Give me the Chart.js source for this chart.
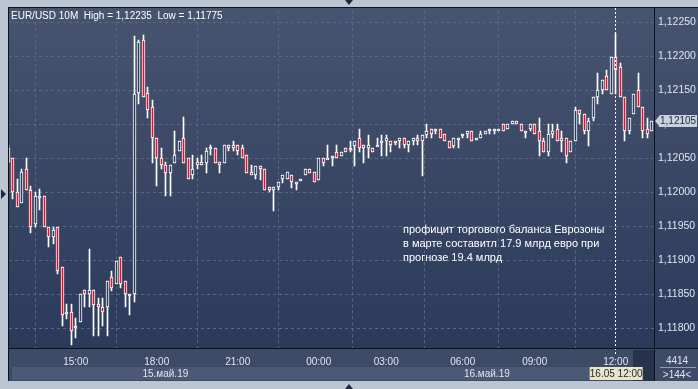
<!DOCTYPE html>
<html>
<head>
<meta charset="utf-8">
<script src="https://cdn.jsdelivr.net/npm/chart.js@4.4.0/dist/chart.umd.min.js"></script>
<style>
  html, body { margin: 0; padding: 0; background: #bcc6d3; }
</style>
</head>
<body>
<canvas id="eurusd" width="698" height="389"></canvas>
<script>
// EUR/USD 10M, 144 свечи
const opens = [
  1.12045, 1.12050, 1.12000, 1.11984, 1.12034, 1.12004, 1.11954, 1.11994, 1.11994, 1.11949,
  1.11934, 1.11949, 1.11890, 1.11824, 1.11824, 1.11800, 1.11810, 1.11856, 1.11850, 1.11856,
  1.11836, 1.11831, 1.11831, 1.11875, 1.11865, 1.11905, 1.11870, 1.11849, 1.11850, 1.12146,
  1.12225, 1.12146, 1.12125, 1.12080, 1.12050, 1.12040, 1.12029, 1.12044, 1.12061, 1.12080,
  1.12050, 1.12025, 1.12040, 1.12045, 1.12044, 1.12066, 1.12066, 1.12045, 1.12044, 1.12070,
  1.12066, 1.12070, 1.12066, 1.12055, 1.12030, 1.12025, 1.12039, 1.12034, 1.12008, 1.12004,
  1.12008, 1.12019, 1.12019, 1.12025, 1.12015, 1.12019, 1.12025, 1.12034, 1.12030, 1.12018,
  1.12050, 1.12050, 1.12050, 1.12060, 1.12054, 1.12065, 1.12065, 1.12069, 1.12080, 1.12070,
  1.12065, 1.12065, 1.12070, 1.12075, 1.12075, 1.12075, 1.12075, 1.12075, 1.12080, 1.12070,
  1.12075, 1.12080, 1.12075, 1.12085, 1.12094, 1.12090, 1.12094, 1.12086, 1.12075, 1.12069,
  1.12080, 1.12086, 1.12086, 1.12090, 1.12080, 1.12080, 1.12086, 1.12090, 1.12094, 1.12094,
  1.12100, 1.12094, 1.12100, 1.12105, 1.12100, 1.12090, 1.12094, 1.12100, 1.12090, 1.12075,
  1.12060, 1.12086, 1.12094, 1.12080, 1.12080, 1.12060, 1.12075, 1.12121, 1.12115, 1.12090,
  1.12110, 1.12140, 1.12150, 1.12171, 1.12145, 1.12200, 1.12185, 1.12140, 1.12090, 1.12115,
  1.12150, 1.12126, 1.12094, 1.12090
];
const highs = [
  1.12070, 1.12050, 1.12019, 1.12034, 1.12050, 1.12010, 1.12001, 1.12005, 1.11994, 1.11949,
  1.11949, 1.11949, 1.11890, 1.11836, 1.11836, 1.11815, 1.11850, 1.11856, 1.11916, 1.11856,
  1.11845, 1.11845, 1.11870, 1.11885, 1.11899, 1.11905, 1.11870, 1.11850, 1.12230, 1.12225,
  1.12231, 1.12155, 1.12136, 1.12080, 1.12066, 1.12045, 1.12040, 1.12091, 1.12075, 1.12111,
  1.12050, 1.12055, 1.12050, 1.12055, 1.12066, 1.12070, 1.12066, 1.12045, 1.12070, 1.12070,
  1.12075, 1.12070, 1.12070, 1.12055, 1.12040, 1.12039, 1.12039, 1.12034, 1.12008, 1.12008,
  1.12015, 1.12025, 1.12030, 1.12025, 1.12015, 1.12019, 1.12034, 1.12034, 1.12030, 1.12050,
  1.12050, 1.12070, 1.12054, 1.12070, 1.12060, 1.12065, 1.12075, 1.12075, 1.12094, 1.12070,
  1.12085, 1.12065, 1.12080, 1.12085, 1.12085, 1.12075, 1.12075, 1.12080, 1.12080, 1.12075,
  1.12080, 1.12085, 1.12085, 1.12100, 1.12094, 1.12094, 1.12094, 1.12086, 1.12075, 1.12080,
  1.12080, 1.12086, 1.12090, 1.12090, 1.12080, 1.12090, 1.12090, 1.12094, 1.12094, 1.12094,
  1.12100, 1.12100, 1.12105, 1.12105, 1.12100, 1.12090, 1.12100, 1.12100, 1.12110, 1.12080,
  1.12100, 1.12100, 1.12100, 1.12090, 1.12080, 1.12075, 1.12126, 1.12121, 1.12115, 1.12110,
  1.12140, 1.12175, 1.12165, 1.12180, 1.12200, 1.12235, 1.12190, 1.12140, 1.12110, 1.12145,
  1.12175, 1.12126, 1.12110, 1.12105
];
const lows = [
  1.12043, 1.11990, 1.11979, 1.11984, 1.12004, 1.11940, 1.11949, 1.11974, 1.11949, 1.11919,
  1.11924, 1.11880, 1.11804, 1.11814, 1.11775, 1.11785, 1.11810, 1.11831, 1.11831, 1.11789,
  1.11789, 1.11804, 1.11789, 1.11855, 1.11865, 1.11860, 1.11831, 1.11820, 1.11839, 1.12130,
  1.12140, 1.12110, 1.12044, 1.12009, 1.12034, 1.11994, 1.11994, 1.12044, 1.12061, 1.12044,
  1.12019, 1.12019, 1.12034, 1.12040, 1.12029, 1.12055, 1.12044, 1.12029, 1.12044, 1.12061,
  1.12061, 1.12055, 1.12050, 1.12029, 1.12025, 1.12019, 1.12018, 1.12004, 1.12000, 1.11973,
  1.12004, 1.12014, 1.12019, 1.12007, 1.12004, 1.12019, 1.12025, 1.12029, 1.12015, 1.12018,
  1.12039, 1.12050, 1.12039, 1.12050, 1.12054, 1.12060, 1.12060, 1.12039, 1.12060, 1.12043,
  1.12050, 1.12060, 1.12070, 1.12054, 1.12054, 1.12060, 1.12070, 1.12065, 1.12065, 1.12060,
  1.12070, 1.12070, 1.12024, 1.12080, 1.12080, 1.12086, 1.12080, 1.12076, 1.12065, 1.12065,
  1.12065, 1.12080, 1.12080, 1.12075, 1.12080, 1.12080, 1.12086, 1.12086, 1.12086, 1.12094,
  1.12090, 1.12094, 1.12100, 1.12100, 1.12090, 1.12080, 1.12090, 1.12086, 1.12054, 1.12060,
  1.12054, 1.12080, 1.12075, 1.12060, 1.12044, 1.12060, 1.12075, 1.12100, 1.12086, 1.12068,
  1.12105, 1.12130, 1.12145, 1.12150, 1.12145, 1.12145, 1.12140, 1.12075, 1.12086, 1.12115,
  1.12126, 1.12080, 1.12080, 1.12090
];
const closes = [
  1.12065, 1.12000, 1.11979, 1.12030, 1.12004, 1.11949, 1.11995, 1.11995, 1.11949, 1.11934,
  1.11945, 1.11884, 1.11820, 1.11824, 1.11796, 1.11804, 1.11850, 1.11850, 1.11856, 1.11835,
  1.11831, 1.11824, 1.11870, 1.11860, 1.11899, 1.11865, 1.11850, 1.11850, 1.12145, 1.12221,
  1.12140, 1.12121, 1.12080, 1.12050, 1.12040, 1.12029, 1.12040, 1.12055, 1.12075, 1.12044,
  1.12019, 1.12034, 1.12045, 1.12040, 1.12061, 1.12067, 1.12044, 1.12040, 1.12070, 1.12066,
  1.12070, 1.12061, 1.12050, 1.12029, 1.12025, 1.12039, 1.12034, 1.12004, 1.12004, 1.12008,
  1.12015, 1.12025, 1.12030, 1.12015, 1.12015, 1.12019, 1.12034, 1.12029, 1.12015, 1.12050,
  1.12043, 1.12050, 1.12054, 1.12050, 1.12060, 1.12060, 1.12065, 1.12075, 1.12065, 1.12065,
  1.12070, 1.12060, 1.12070, 1.12075, 1.12080, 1.12070, 1.12075, 1.12080, 1.12070, 1.12075,
  1.12080, 1.12075, 1.12085, 1.12090, 1.12086, 1.12094, 1.12080, 1.12076, 1.12065, 1.12080,
  1.12080, 1.12086, 1.12090, 1.12075, 1.12080, 1.12086, 1.12090, 1.12094, 1.12090, 1.12094,
  1.12090, 1.12100, 1.12105, 1.12100, 1.12090, 1.12090, 1.12100, 1.12086, 1.12075, 1.12060,
  1.12086, 1.12090, 1.12075, 1.12075, 1.12054, 1.12075, 1.12121, 1.12115, 1.12090, 1.12105,
  1.12140, 1.12150, 1.12165, 1.12150, 1.12200, 1.12180, 1.12140, 1.12090, 1.12110, 1.12145,
  1.12126, 1.12090, 1.12086, 1.12105
];

const yTicks = [1.118, 1.1185, 1.119, 1.1195, 1.12, 1.1205, 1.121, 1.1215, 1.122, 1.1225];
const timeTickIdx = [15, 33, 51, 69, 84, 101, 117, 135];
const timeTickText = ['15:00', '18:00', '21:00', '00:00', '03:00', '06:00', '09:00', '12:00'];
const dayLabels = ['15.май.19', '16.май.19'];
const dayStartIdx = 69;          // 00:00 — граница суток
const cursorIdx = 135;           // вертикальный курсор
const cursorText = '16.05 12:00';
const headerText = 'EUR/USD 10M  High = 1,12235  Low = 1,11775';
const noteLines = [
  'профицит торгового баланса Еврозоны',
  'в марте составитл 17.9 млрд евро при',
  'прогнозе 19.4 млрд'
];
const barsCount = '4414';
const barsVisible = '>144<';

const UP_FILL = '#2f3d5c';
const DOWN_FILL = '#e4112b';
const fmt = v => v.toFixed(5).replace('.', ',');

const wicks = opens.map((o, i) => ({ x: i, y: [lows[i], highs[i]] }));
const bodies = opens.map((o, i) => ({ x: i, y: [Math.min(o, closes[i]), Math.max(o, closes[i])] }));
const bodyColors = opens.map((o, i) => closes[i] < o ? DOWN_FILL : UP_FILL);

// свечи по пикселям, чтобы не расплывались
const snapPlugin = {
  id: 'snap',
  beforeDatasetsDraw(chart) {
    chart.data.datasets.forEach((ds, di) => {
      chart.getDatasetMeta(di).data.forEach(el => {
        el.x = Math.floor(el.x) + 0.5;
        el.y = Math.round(el.y);
        el.base = Math.round(el.base);
        if (el.base - el.y < 2) el.base = el.y + 2;
      });
    });
  }
};

// фон, рамки и подписи терминала
const framePlugin = {
  id: 'frame',
  beforeDraw(chart) {
    const ctx = chart.ctx;
    const W = chart.width, H = chart.height;
    ctx.save();
    ctx.fillStyle = '#bcc6d3';
    ctx.fillRect(0, 0, W, H);
    const g = ctx.createLinearGradient(0, 8, 0, 349);
    g.addColorStop(0, '#47546f');
    g.addColorStop(1, '#2b3a5b');
    ctx.fillStyle = g;
    ctx.fillRect(8, 7, W - 8, 342);
    ctx.fillStyle = '#3e4b67';
    ctx.fillRect(8, 349, W - 8, 32);
    const xs = chart.scales.x;
    const split = Math.round(xs.getPixelForValue(dayStartIdx));
    ctx.fillStyle = '#4b5976';
    ctx.fillRect(12, 367, split - 12, 13);
    ctx.fillRect(split, 367, 633 - split, 13);
    ctx.fillStyle = '#27324c';
    ctx.fillRect(633, 350, 22, 31);
    ctx.restore();
  },
  afterDatasetsDraw(chart) {
    const ctx = chart.ctx;
    const xs = chart.scales.x;
    const cx = Math.floor(xs.getPixelForValue(cursorIdx)) + 0.5;
    ctx.save();
    ctx.strokeStyle = '#ffffff';
    ctx.lineWidth = 1;
    ctx.setLineDash([2, 2]);
    ctx.beginPath();
    ctx.moveTo(cx, 8);
    ctx.lineTo(cx, 355);
    ctx.stroke();
    ctx.restore();
  },
  afterDraw(chart) {
    const ctx = chart.ctx;
    const W = chart.width;
    const xs = chart.scales.x, ys = chart.scales.y;
    ctx.save();
    // линии рамки
    ctx.strokeStyle = '#0e121a';
    ctx.lineWidth = 1;
    ctx.beginPath();
    ctx.moveTo(8.5, 7); ctx.lineTo(8.5, 381);
    ctx.moveTo(654.5, 7); ctx.lineTo(654.5, 381);
    ctx.moveTo(8, 348.5); ctx.lineTo(W, 348.5);
    ctx.moveTo(8, 7.5); ctx.lineTo(W, 7.5);
    ctx.stroke();

    // заголовок
    ctx.font = '10px "Liberation Sans", Arial, sans-serif';
    ctx.fillStyle = '#ffffff';
    ctx.textBaseline = 'alphabetic';
    ctx.textAlign = 'left';
    ctx.fillText(headerText, 11, 19);

    // комментарий
    ctx.font = '11px "Liberation Sans", Arial, sans-serif';
    noteLines.forEach((t, i) => ctx.fillText(t, 403, 233 + i * 14));

    // подписи дней
    const split = xs.getPixelForValue(dayStartIdx);
    ctx.font = '10px "Liberation Sans", Arial, sans-serif';
    ctx.fillStyle = '#dfe5ee';
    ctx.textAlign = 'center';
    ctx.textBaseline = 'middle';
    ctx.fillText(dayLabels[0], (12 + split) / 2, 374);
    ctx.fillText(dayLabels[1], (split + 655) / 2, 374);

    // метка курсора
    const cx = xs.getPixelForValue(cursorIdx);
    ctx.fillStyle = '#e8e5c8';
    ctx.fillRect(cx - 26, 367, 53, 13);
    ctx.fillStyle = '#1d2233';
    ctx.fillText(cursorText, cx + 0.5, 374);

    // счётчик баров
    ctx.fillStyle = '#dfe5ee';
    ctx.fillText(barsCount, 677, 361);
    ctx.fillText(barsVisible, 677, 375);
    ctx.strokeStyle = '#8f9ab0';
    ctx.beginPath();
    ctx.moveTo(660, 367.5); ctx.lineTo(696, 367.5);
    ctx.stroke();

    // текущая цена
    const last = closes[closes.length - 1];
    const py = Math.round(ys.getPixelForValue(last));
    ctx.fillStyle = '#c9d1dc';
    ctx.beginPath();
    ctx.moveTo(655, py);
    ctx.lineTo(660, py - 6);
    ctx.lineTo(697, py - 6);
    ctx.lineTo(697, py + 6);
    ctx.lineTo(660, py + 6);
    ctx.closePath();
    ctx.fill();
    ctx.fillStyle = '#1d2740';
    ctx.font = '10px "Liberation Sans", Arial, sans-serif';
    ctx.textAlign = 'left';
    ctx.fillText(fmt(last), 660, py + 0.5);

    // треугольники прокрутки
    ctx.fillStyle = '#1f2940';
    ctx.beginPath();
    ctx.moveTo(345, 0); ctx.lineTo(353, 0); ctx.lineTo(349, 5); ctx.closePath();
    ctx.moveTo(345, 389); ctx.lineTo(353, 389); ctx.lineTo(349, 384); ctx.closePath();
    ctx.moveTo(1, 189); ctx.lineTo(6, 194); ctx.lineTo(1, 199); ctx.closePath();
    ctx.fill();
    ctx.restore();
  }
};

Chart.defaults.font.family = '"Liberation Sans", Arial, sans-serif';

const chart = new Chart(document.getElementById('eurusd'), {
  type: 'bar',
  data: {
    datasets: [
      {
        label: 'body',
        data: bodies,
        backgroundColor: bodyColors,
        borderColor: '#ffffff',
        borderWidth: 1,
        borderSkipped: false,
        barThickness: 3,
        grouped: false,
        clip: 0,
        order: 0
      },
      {
        label: 'wick',
        data: wicks,
        backgroundColor: '#ffffff',
        borderWidth: 0,
        barThickness: 1,
        grouped: false,
        clip: 0,
        order: 1
      }
    ]
  },
  options: {
    responsive: false,
    animation: false,
    devicePixelRatio: 1,
    layout: { padding: { left: 9, top: 8, right: 0, bottom: 0 } },
    plugins: {
      legend: { display: false },
      tooltip: { enabled: false }
    },
    scales: {
      x: {
        type: 'linear',
        min: 0.18,
        max: 143.51,
        offset: false,
        afterBuildTicks: s => { s.ticks = timeTickIdx.map(v => ({ value: v })); },
        afterFit: s => { s.height = 41; },
        grid: { color: '#5a6888', drawTicks: false },
        border: { display: false, dash: [3, 3] },
        ticks: {
          autoSkip: false,
          maxRotation: 0,
          padding: 8,
          color: '#dfe5ee',
          font: { size: 10 },
          callback: v => timeTickText[timeTickIdx.indexOf(v)]
        }
      },
      y: {
        position: 'right',
        min: 1.11771,
        max: 1.12268,
        afterBuildTicks: s => { s.ticks = yTicks.map(v => ({ value: v })); },
        afterFit: s => { s.width = 44; },
        grid: { color: '#5a6888', drawTicks: false },
        border: { display: false, dash: [3, 3] },
        ticks: {
          padding: 4,
          color: '#dfe5ee',
          font: { size: 10.5 },
          callback: v => fmt(v)
        }
      }
    }
  },
  plugins: [snapPlugin, framePlugin]
});
</script>
</body>
</html>
